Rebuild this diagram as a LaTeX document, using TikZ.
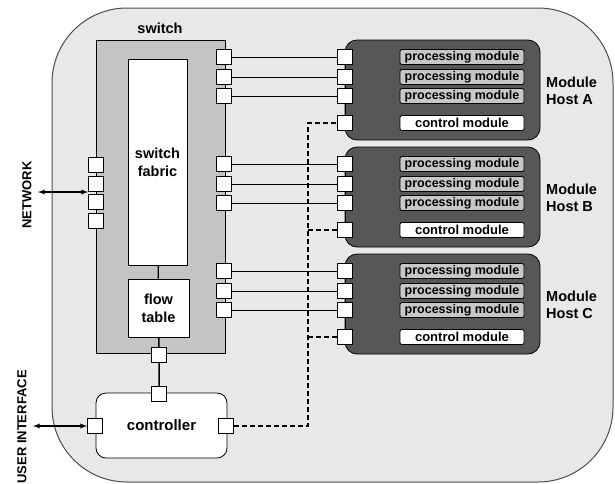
\documentclass[tikz,border=0pt]{standalone}
\usepackage{fontspec}
\setmainfont{Liberation Sans}
\usetikzlibrary{arrows,positioning}

\definecolor{outergray}{gray}{0.91}
\definecolor{switchgray}{gray}{0.77}
\definecolor{hostgray}{gray}{0.34}
\definecolor{modgray}{gray}{0.78}

\newcommand{\bigfont}{\bfseries\fontsize{14.5}{18}\selectfont}
\newcommand{\smallfont}{\bfseries\fontsize{12.5}{12}\selectfont}

\begin{document}
\begin{tikzpicture}[x=1pt,y=-1pt]
       \tikzstyle{every node}=[inner sep=0pt]
       \tikzstyle{port}=[draw, fill=white, minimum size=15pt, line width=0.8pt]
       \tikzstyle{box}=[draw, line width=0.8pt]
       \tikzstyle{host}=[box, fill=hostgray, rounded corners=12pt, minimum width=195pt, minimum height=100pt]
       \tikzstyle{pmod}=[box, fill=modgray, rounded corners=2pt, minimum width=124pt, minimum height=15pt, font=\smallfont]
       \tikzstyle{cmod}=[pmod, fill=white, font=\bfseries\fontsize{13}{12}\selectfont]
       \tikzstyle{link}=[line width=0.9pt]
       \tikzstyle{ctrl}=[line width=2pt, dash pattern=on 5pt off 3pt]

       \useasboundingbox (0,0) rectangle (615,483);

       \node[draw=black!70, line width=1pt, fill=outergray, rounded corners=75pt,
             minimum width=561pt, minimum height=474pt] (outer) at (332.5,245) {};

       \node[font=\bigfont] (swlabel) at (160,28) {switch};
       \node[box, fill=switchgray, minimum width=129pt, minimum height=313pt] (switch) at (160.5,196.5) {};
       \node[box, fill=white, minimum width=59pt, minimum height=206pt, align=center, font=\bigfont] (fabric) at (157.5,162) {switch\\fabric};
       \node[box, fill=white, minimum width=61pt, minimum height=58pt, align=center, font=\bigfont] (flow) at (158.5,308) {flow\\table};
       \draw[line width=1.3pt] (fabric) -- (flow);

       \node[box, fill=white, rounded corners=10pt, minimum width=131pt, minimum height=65pt, font=\bfseries\fontsize{15}{18}\selectfont] (ctl) at (161.5,425.5) {controller};
       \node[port] (swc) at (159,355) {};
       \node[port] (ctlT) at (159,394) {};
       \node[port] (ctlL) at (95,426) {};
       \node[port] (ctlR) at (226,426) {};
       \draw[line width=1.5pt] (flow) -- (swc) -- (ctlT);

       \foreach \i/\y in {1/165,2/184,3/202,4/221}
         \node[port] (np\i) at (96,\y) {};

       \node[rotate=90, font=\bfseries\fontsize{13}{13}\selectfont] (netlab) at (27,195) {NETWORK};
       \node[rotate=90, font=\bfseries\fontsize{13}{13}\selectfont] (uilab) at (22,427) {USER INTERFACE};
       \coordinate (net) at (38,192);
       \coordinate (ui) at (33,426);
       \draw[latex-latex, line width=1.3pt] (net) -- (net -| np1.west);
       \draw[latex-latex, line width=1.3pt] (ui) -- (ctlL);

       \foreach \h/\t in {A/40,B/147,C/254} {
         \node[host] (host\h) at (442.5,\t+50) {};
         \node[anchor=west, align=left, font=\bfseries\fontsize{14.5}{17}\selectfont] (lab\h) at (546,\t+51) {Module\\Host \h};
         \draw[link] (345,\t+17) -- (345,\t+83);
         \foreach \i/\o in {1/17,2/37,3/56} {
           \node[pmod] (pm\h\i) at (462,\t+\o) {processing module};
           \node[port] (hp\h\i) at (345,\t+\o) {};
           \node[port] (sp\h\i) at (224,\t+\o) {};
           \draw[link] (sp\h\i) -- (hp\h\i);
         }
         \node[cmod] (cm\h) at (462,\t+83) {control module};
         \node[port] (hc\h) at (345,\t+83) {};
       }

       \coordinate (bus) at (308,426);
       \draw[ctrl] (ctlR) -- (bus) |- (hcA);
       \draw[ctrl] (bus |- hcB) -- (hcB);
       \draw[ctrl] (bus |- hcC) -- (hcC);
     \end{tikzpicture}
\end{document}
